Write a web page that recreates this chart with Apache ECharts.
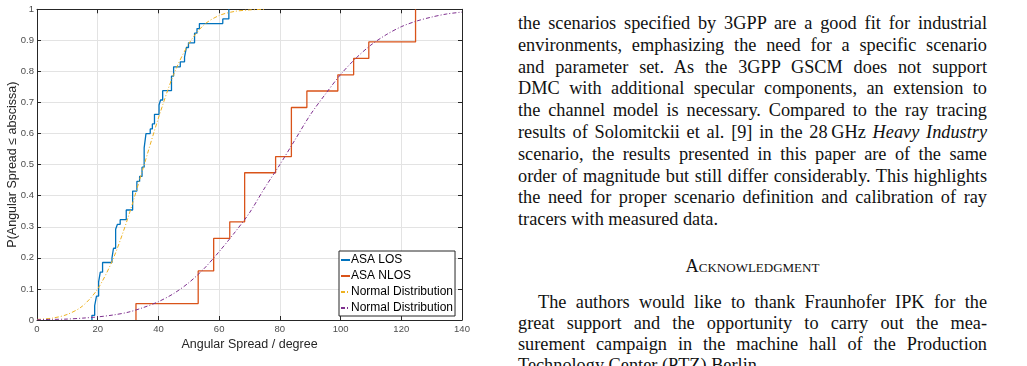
<!DOCTYPE html>
<html>
<head>
<meta charset="utf-8">
<script src="https://cdn.jsdelivr.net/npm/echarts@6/dist/echarts.min.js"></script>
<style>
  html, body { margin: 0; padding: 0; background: #fff; width: 1027px; height: 366px; overflow: hidden; }
  #chart { position: absolute; left: 0; top: 0; width: 480px; height: 366px; }
  .col { position: absolute; left: 518px; top: 0; width: 469px; height: 366px;
         font-family: "Liberation Serif", "Times New Roman", serif; font-size: 18.3px; color: #111; }
  .col div { position: absolute; left: 0; width: 469px; height: 21.8px; line-height: 21.8px;
             white-space: nowrap; text-align: justify; text-align-last: justify; }
  .col div.last { text-align-last: left; }
  .col div.head { text-align: center; text-align-last: center; font-variant: small-caps; }
  .col div.indent { left: 20px; width: 449px; }
</style>
</head>
<body>
<div id="chart"></div>
<div class="col">
  <div style="top:13px">the scenarios specified by 3GPP are a good fit for industrial</div>
  <div style="top:34.8px">environments, emphasizing the need for a specific scenario</div>
  <div style="top:56.6px">and parameter set. As the 3GPP GSCM does not support</div>
  <div style="top:78.4px">DMC with additional specular components, an extension to</div>
  <div style="top:100.2px">the channel model is necessary. Compared to the ray tracing</div>
  <div style="top:122px">results of Solomitckii et al. [9] in the 28&#8201;GHz <i>Heavy Industry</i></div>
  <div style="top:143.8px">scenario, the results presented in this paper are of the same</div>
  <div style="top:165.6px">order of magnitude but still differ considerably. This highlights</div>
  <div style="top:187.4px">the need for proper scenario definition and calibration of ray</div>
  <div class="last" style="top:209.2px">tracers with measured data.</div>
  <div class="head" style="top:255.7px">Acknowledgment</div>
  <div class="indent" style="top:291.5px">The authors would like to thank Fraunhofer IPK for the</div>
  <div style="top:312.5px">great support and the opportunity to carry out the mea-</div>
  <div style="top:333.5px">surement campaign in the machine hall of the Production</div>
  <div class="last" style="top:354.5px">Technology Center (PTZ) Berlin.</div>
</div>
<script>
// empirical CDF of ASA, LOS: step positions (degree) and CDF after each step
const losAngle = [18.1, 19.0, 19.6, 20.3, 20.85, 21.6, 24.7, 25.2, 25.9, 26.5, 27.4, 29.4,
  31.5, 32.9, 33.8, 34.6, 35.3, 35.9, 37.3, 38.0, 38.7, 40.2, 40.7, 41.4, 44.3, 45.0,
  47.2, 48.6, 49.2, 49.9, 51.9, 52.7, 53.5, 61.2, 63.2];
const losProb = [0.015, 0.046, 0.077, 0.123, 0.154, 0.185, 0.200, 0.231, 0.292, 0.308, 0.323, 0.354,
  0.415, 0.446, 0.462, 0.492, 0.554, 0.600, 0.615, 0.631, 0.662, 0.692, 0.708, 0.738, 0.785, 0.815,
  0.831, 0.846, 0.877, 0.892, 0.923, 0.938, 0.954, 0.969, 1.0];

// empirical CDF of ASA, NLOS
const nlosAngle = [32.6, 53.1, 58.2, 63.5, 68.4, 78.6, 83.8, 88.9, 99.1, 104.3, 109.3, 124.7];
const nlosProb = [0.053, 0.158, 0.263, 0.316, 0.474, 0.526, 0.684, 0.737, 0.789, 0.842, 0.895, 1.0];

// fitted normal CDFs
const losFitAngle = [0, 5, 10, 15, 20, 25, 30, 35, 40, 45, 50, 55, 60, 65, 70, 75];
const losFitProb = [0.002, 0.006, 0.018, 0.045, 0.100, 0.195, 0.330, 0.490, 0.650, 0.790, 0.889, 0.950, 0.980, 0.993, 0.998, 1.0];
const nlosFitAngle = [0, 5, 10, 15, 20, 25, 30, 35, 40, 45, 50, 55, 60, 65, 70,
  75, 80, 85, 90, 95, 100, 105, 110, 115, 120, 125, 130, 135, 140];
const nlosFitProb = [0.001, 0.002, 0.003, 0.006, 0.010, 0.016, 0.025, 0.040, 0.059, 0.085, 0.120, 0.165, 0.220, 0.280, 0.345,
  0.425, 0.500, 0.580, 0.660, 0.727, 0.790, 0.842, 0.885, 0.918, 0.944, 0.962, 0.975, 0.985, 0.991];

const xTicks = [0, 140, 20];
const yTicks = [0, 1, 0.1];

const axisColor = '#262626';
const font = 'Liberation Sans, Arial, Helvetica, sans-serif';

const stepData = (xs, ps) => [[xs[0], 0]].concat(xs.map((x, i) => [x, ps[i]]));
const pairs = (xs, ps) => xs.map((x, i) => [x, ps[i]]);

const frameAxis = (isX, pos) => ({
  type: 'value',
  min: isX ? xTicks[0] : yTicks[0],
  max: isX ? xTicks[1] : yTicks[1],
  interval: isX ? xTicks[2] : yTicks[2],
  position: pos,
  axisLine: { show: true, onZero: false, lineStyle: { color: axisColor, width: 1 } },
  axisTick: { show: true, inside: true, length: 4, lineStyle: { color: axisColor } },
  axisLabel: { show: false },
  splitLine: { show: false }
});

const chart = echarts.init(document.getElementById('chart'));

chart.setOption({
  animation: false,
  grid: { left: 37, top: 9.3, width: 425, height: 310.7, outerBoundsMode: 'none', containLabel: false },
  legend: {
    orient: 'vertical',
    left: 339,
    top: 251,
    padding: [3, 2, 2, 1],
    itemWidth: 9,
    itemHeight: 12,
    itemGap: 4,
    backgroundColor: '#fff',
    borderColor: axisColor,
    borderWidth: 1,
    borderRadius: 0,
    itemStyle: { opacity: 0 },
    formatter: name => name.trim(),
    textStyle: { fontSize: 12, fontFamily: font, color: '#000', padding: [0, 0, 0, -4] }
  },
  xAxis: [
    Object.assign(frameAxis(true, 'bottom'), {
      name: 'Angular Spread / degree',
      nameLocation: 'middle',
      nameGap: 18,
      nameMoveOverlap: false,
      nameTextStyle: { fontSize: 12.5, fontFamily: font, color: axisColor },
      axisLabel: { show: true, fontSize: 9.5, fontFamily: font, color: '#4d4d4d', margin: 4 },
      splitLine: { show: true, lineStyle: { color: '#e3e3e3', width: 1 } }
    }),
    frameAxis(true, 'top')
  ],
  yAxis: [
    Object.assign(frameAxis(false, 'left'), {
      name: 'P(Angular Spread ≤ abscissa)',
      nameLocation: 'middle',
      nameGap: 18,
      nameMoveOverlap: false,
      nameTextStyle: { fontSize: 12.5, fontFamily: font, color: axisColor },
      axisLabel: { show: true, fontSize: 9.5, fontFamily: font, color: '#4d4d4d', margin: 3 },
      splitLine: { show: true, lineStyle: { color: '#e3e3e3', width: 1 } }
    }),
    frameAxis(false, 'right')
  ],
  series: [
    {
      name: 'ASA LOS', type: 'line', step: 'end', symbol: 'none',
      data: stepData(losAngle, losProb),
      lineStyle: { color: '#0072BD', width: 1.3 }, itemStyle: { color: '#0072BD' }
    },
    {
      name: 'ASA NLOS', type: 'line', step: 'end', symbol: 'none',
      data: stepData(nlosAngle, nlosProb),
      lineStyle: { color: '#D95319', width: 1.3 }, itemStyle: { color: '#D95319' }
    },
    {
      name: 'Normal Distribution', type: 'line', symbol: 'none', smooth: 0.3,
      data: pairs(losFitAngle, losFitProb),
      lineStyle: { color: '#EDB120', width: 1, type: [4, 2, 1, 2] }, itemStyle: { color: '#EDB120' }
    },
    {
      name: 'Normal Distribution ', type: 'line', symbol: 'none', smooth: 0.3,
      data: pairs(nlosFitAngle, nlosFitProb),
      lineStyle: { color: '#7E2F8E', width: 1, type: [4, 2, 1, 2] }, itemStyle: { color: '#7E2F8E' }
    }
  ]
});
</script>
</body>
</html>
